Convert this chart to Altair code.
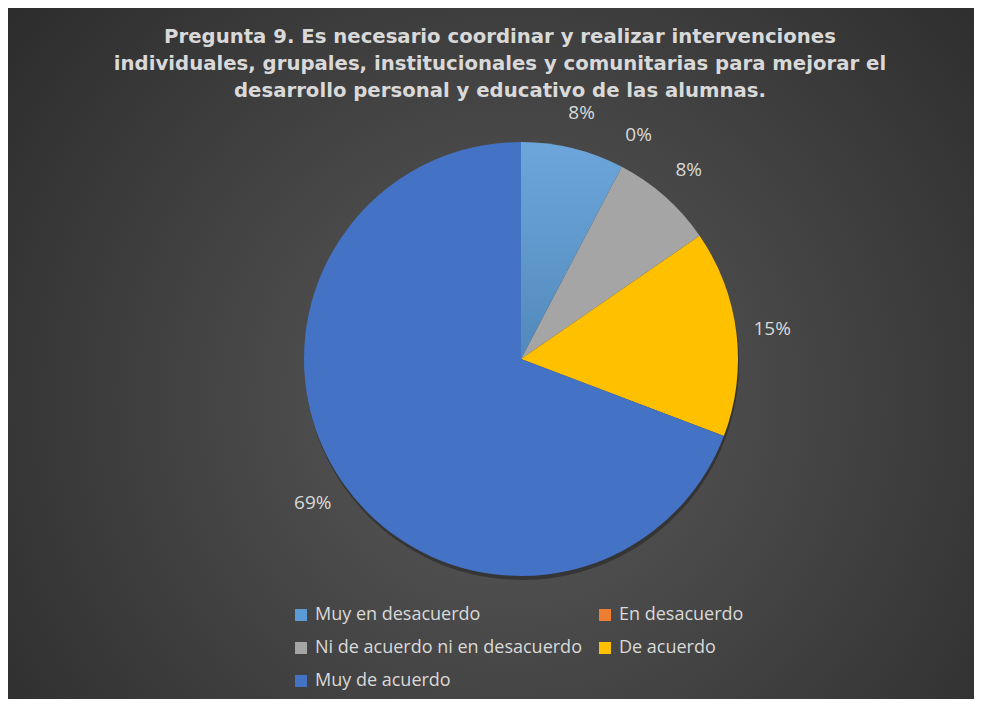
import altair as alt
import pandas as pd

CATEGORIES = ["Muy en desacuerdo", "En desacuerdo", "Ni de acuerdo ni en desacuerdo",
              "De acuerdo", "Muy de acuerdo"]
COUNTS = [1, 0, 1, 2, 9]
LABELS = ["8%", "0%", "8%", "15%", "69%"]
COLORS = ["#5B9BD5", "#ED7D31", "#A5A5A5", "#FFC000", "#4472C4"]
TITLE_LINES = [
    "Pregunta 9. Es necesario coordinar y realizar intervenciones",
    "individuales, grupales, institucionales y comunitarias para mejorar el",
    "desarrollo personal y educativo de las alumnas.",
]

W, H = 966, 691
CX, CY = 513, 351
R = 217
TXT = "#D9D9D9"

df = pd.DataFrame({"cat": CATEGORIES, "n": COUNTS, "label": LABELS,
                   "idx": list(range(len(CATEGORIES)))})

bg = alt.Chart(pd.DataFrame({"k": [0]})).mark_rect(
    fill=alt.RadialGradient(
        gradient="radial", x1=0.52, y1=0.55, r1=0, x2=0.52, y2=0.55, r2=0.75,
        stops=[alt.GradientStop(offset=0, color="#5a5a5a"),
               alt.GradientStop(offset=1, color="#262626")]),
).encode(x=alt.value(0), x2=alt.value(W), y=alt.value(0), y2=alt.value(H))

title = alt.Chart(pd.DataFrame({"t": ["\n".join(TITLE_LINES)]})).mark_text(
    lineBreak="\n", lineHeight=27, font="DejaVu Sans", fontWeight="bold",
    fontSize=19.7, color=TXT, align="center", baseline="middle",
).encode(text="t:N", x=alt.value(492), y=alt.value(29))

base = alt.Chart(df).encode(
    theta=alt.Theta("n:Q", stack=True),
    order=alt.Order("idx:Q"),
)

shadow = base.mark_arc(radius=R, color="black", opacity=0.3).encode(
    x=alt.value(CX + 1), y=alt.value(CY + 4))

arcs = base.mark_arc(radius=R).encode(
    x=alt.value(CX), y=alt.value(CY),
    color=alt.Color("cat:N", scale=alt.Scale(domain=CATEGORIES, range=COLORS),
                    legend=alt.Legend(
                        orient="none", legendX=284, legendY=598, columns=2,
                        direction="horizontal",
                        title=None, symbolType="square", symbolSize=144,
                        symbolStrokeWidth=0, labelFont="Open Sans",
                        labelFontSize=18, labelColor=TXT, labelLimit=400,
                        labelOffset=5, rowPadding=15, columnPadding=14,
                        padding=0)),
)

shade = alt.Chart(pd.DataFrame({"v": [1]})).mark_arc(
    radius=R,
    fill=alt.LinearGradient(
        gradient="linear", x1=0, y1=0, x2=0, y2=1,
        stops=[alt.GradientStop(offset=0, color="rgba(255,255,255,0.10)"),
               alt.GradientStop(offset=1, color="rgba(0,0,0,0.12)")]),
).encode(theta="v:Q", x=alt.value(CX), y=alt.value(CY))

labels = base.mark_text(radius=253, font="Open Sans", fontSize=19, color=TXT).encode(
    text="label:N", x=alt.value(CX), y=alt.value(CY))

chart = alt.layer(bg, title, shadow, arcs, shade, labels).properties(
    width=W, height=H,
    autosize=alt.AutoSizeParams(type="fit", contains="padding"),
    padding=0,
    background="#262626",
).configure_view(stroke=None)

chart.save("out.html", embed_options={"renderer": "svg", "actions": False})
